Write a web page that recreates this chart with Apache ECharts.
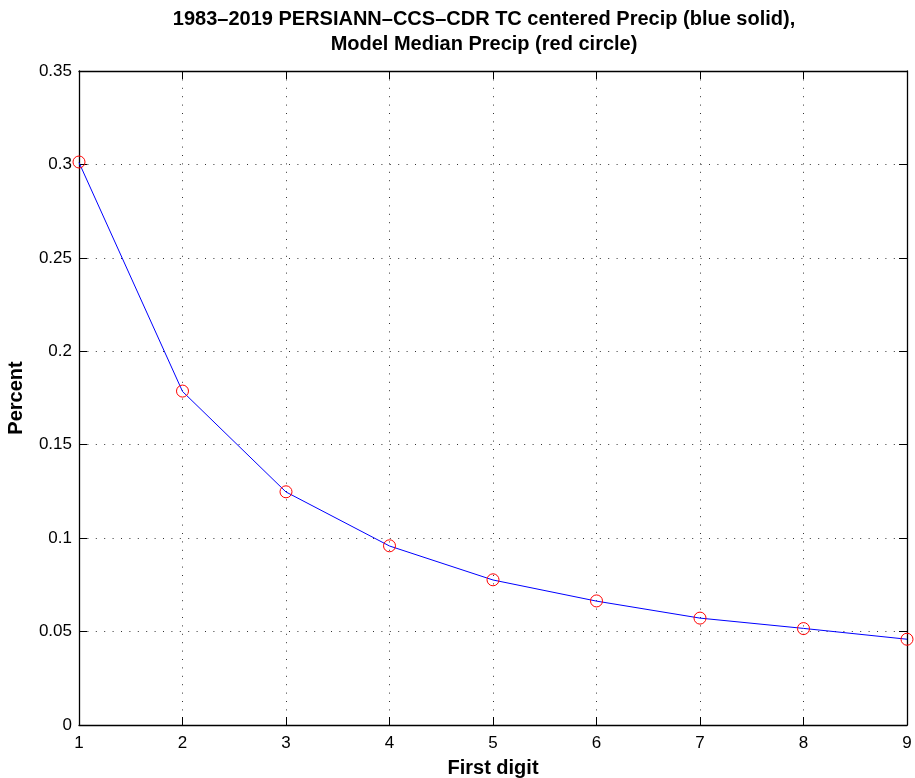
<!DOCTYPE html>
<html>
<head>
<meta charset="utf-8">
<script src="https://cdn.jsdelivr.net/npm/echarts@6/dist/echarts.min.js"></script>
<style>
  html, body { margin: 0; padding: 0; background: #fff; }
  #chart { width: 915px; height: 778px; }
</style>
</head>
<body>
<div id="chart"></div>
<script>
// First-digit frequencies, digits 1..9
const digits = [1, 2, 3, 4, 5, 6, 7, 8, 9];
const obsPrecip = [0.301, 0.1785, 0.1247, 0.0958, 0.0776, 0.0663, 0.0572, 0.0517, 0.0459];
const modelMedian = [0.3013, 0.1787, 0.1248, 0.0959, 0.0777, 0.0664, 0.0572, 0.0516, 0.0459];
const yTickLabels = ['0', '0.05', '0.1', '0.15', '0.2', '0.25', '0.3', '0.35'];

const FONT = 'Liberation Sans, Arial, Helvetica, sans-serif';
const chart = echarts.init(document.getElementById('chart'), null, { renderer: 'canvas' });

const tickStyle = { show: true, inside: true, length: 8, lineStyle: { color: '#000', width: 1 } };
const gridDots = { show: true, lineStyle: { color: '#333', width: 1, type: [1, 7.4] } };
const frameLine = { show: true, onZero: false, lineStyle: { color: '#000', width: 1.3 } };

chart.setOption({
  animation: false,
  backgroundColor: '#fff',
  title: {
    text: '1983–2019 PERSIANN–CCS–CDR TC centered Precip (blue solid),\nModel Median Precip (red circle)',
    left: 479,
    top: 2,
    textAlign: 'center',
    textStyle: { fontFamily: FONT, fontSize: 20, fontWeight: 'bold', color: '#000', lineHeight: 25 }
  },
  grid: { left: 79, right: 8, top: 71, bottom: 53, outerBoundsMode: 'none', containLabel: false },
  xAxis: [{
    type: 'value', min: 1, max: 9, interval: 1,
    name: 'First digit', nameLocation: 'middle', nameGap: 33,
    nameTextStyle: { fontFamily: FONT, fontSize: 20, fontWeight: 'bold', color: '#000' },
    axisLine: frameLine,
    axisTick: tickStyle,
    axisLabel: { fontFamily: FONT, fontSize: 17, color: '#000', margin: 10 },
    splitLine: gridDots
  }, {
    type: 'value', min: 1, max: 9, interval: 1, position: 'top',
    axisLine: frameLine,
    axisTick: tickStyle, axisLabel: { show: false }, splitLine: { show: false }
  }],
  yAxis: [{
    type: 'value', min: 0, max: 0.35, interval: 0.05,
    name: 'Percent', nameLocation: 'middle', nameGap: 53, nameRotate: 90,
    nameTextStyle: { fontFamily: FONT, fontSize: 20, fontWeight: 'bold', color: '#000' },
    axisLine: frameLine,
    axisTick: tickStyle,
    axisLabel: {
      fontFamily: FONT, fontSize: 17, color: '#000', margin: 7,
      formatter: (v) => yTickLabels[Math.round(v / 0.05)]
    },
    splitLine: gridDots
  }, {
    type: 'value', min: 0, max: 0.35, interval: 0.05, position: 'right',
    axisLine: frameLine,
    axisTick: tickStyle, axisLabel: { show: false }, splitLine: { show: false }
  }],
  series: [{
    name: 'PERSIANN-CCS-CDR', type: 'line',
    data: digits.map((d, i) => [d, obsPrecip[i]]),
    showSymbol: false, symbol: 'none',
    lineStyle: { color: '#0000ff', width: 1 },
    clip: false,
    z: 3
  }, {
    name: 'Model Median', type: 'scatter',
    data: digits.map((d, i) => [d, modelMedian[i]]),
    symbol: 'circle', symbolSize: 12,
    itemStyle: { color: 'rgba(0,0,0,0)', opacity: 1, borderColor: '#ff0000', borderWidth: 1 },
    emphasis: { disabled: true },
    clip: false,
    z: 4
  }]
});
</script>
</body>
</html>
